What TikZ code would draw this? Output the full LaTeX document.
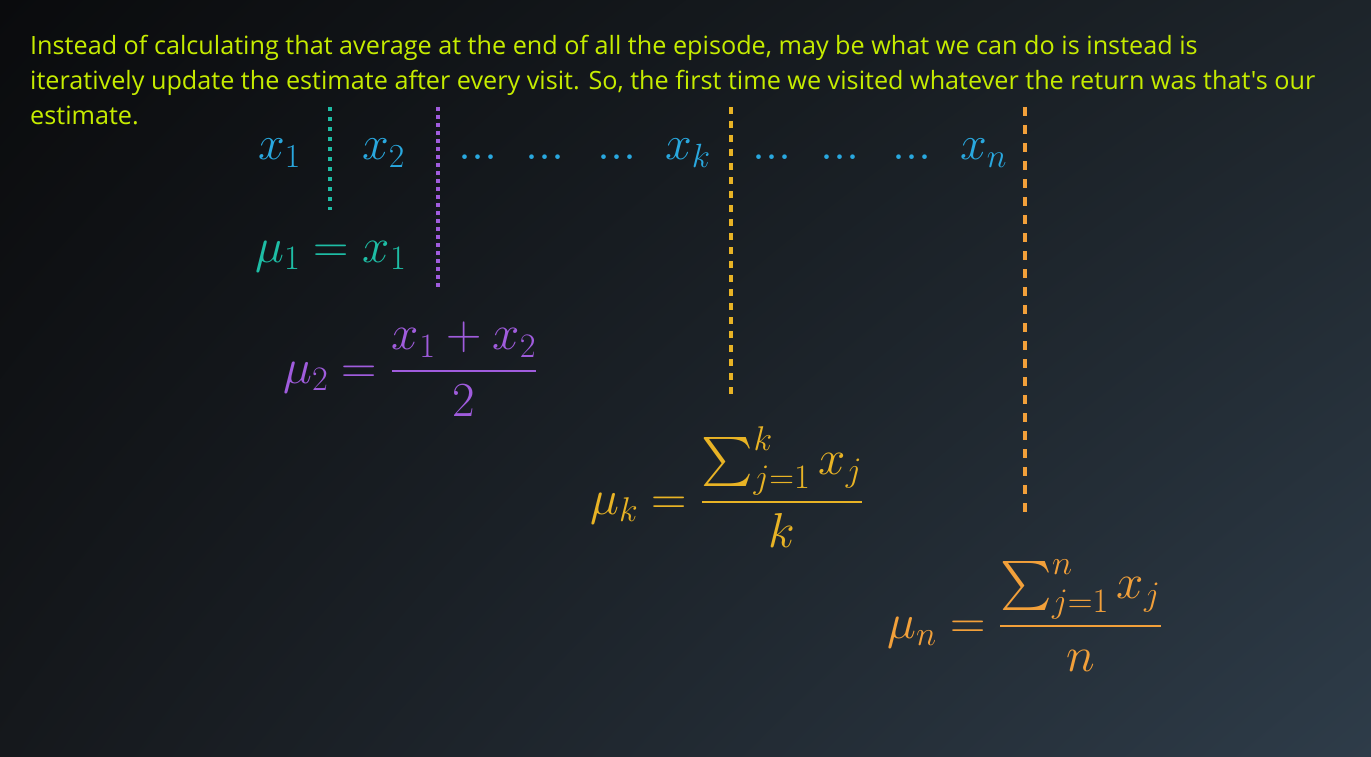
\RequirePackage{fix-cm}
\documentclass[tikz,border=0pt]{standalone}
\usepackage{amsmath}
\usepackage{fontspec}
\usetikzlibrary{positioning,shadings}
\DeclareFontShape{OMX}{cmex}{m}{n}{<->cmex10}{}
\newfontfamily\notefont{Open Sans}
\definecolor{Lime}{HTML}{C6EC00}
\definecolor{Sky}{HTML}{29A8DF}
\definecolor{Teal}{HTML}{1EBDA5}
\definecolor{Violet}{HTML}{A05CDD}
\definecolor{Amber}{HTML}{E8B325}
\definecolor{Tangerine}{HTML}{F2A03A}
\definecolor{BgTL}{HTML}{0A0B0D}
\definecolor{BgTR}{HTML}{1D242A}
\definecolor{BgBL}{HTML}{15181C}
\definecolor{BgBR}{HTML}{2E3C49}
\tikzset{
  note/.style={anchor=base west, inner sep=0pt, text=Lime, font=\notefont\fontsize{25.2}{35}\selectfont},
  obs/.style={anchor=base west, inner sep=0pt, text=Sky, font=\fontsize{48}{56}\selectfont},
  eqn/.style={anchor=base west, inner sep=0pt, font=\fontsize{49}{56}\selectfont},
  sep/.style={line width=4pt},
}

\begin{document}
\begin{tikzpicture}[x=1pt, y=-1pt]
    % background
    \shade[upper left=BgTL, upper right=BgTR, lower left=BgBL, lower right=BgBR] (0,0) rectangle (1371,757);
    % spoken note
    \node[note] (line1) at (30,55) {Instead of calculating that average at the end of all the episode, may be what we can do is instead is};
    \node[note] (line2) at (30,90) {iteratively update the estimate after every visit. So, the first time we visited whatever the return was that's our};
    \node[note] (line3) at (30,125) {estimate.};
    % observed returns
    \node[obs] (x1) at (258,160) {$x_1$};
    \node[obs] (x2) at (362,160) {$x_2$};
    \node[obs] (d1) at (458,160) {$...$};
    \node[obs] (d2) at (525,160) {$...$};
    \node[obs] (d3) at (597,160) {$...$};
    \node[obs] (xk) at (665,160) {$x_k$};
    \node[obs] (d4) at (752,160) {$...$};
    \node[obs] (d5) at (820,160) {$...$};
    \node[obs] (d6) at (892,160) {$...$};
    \node[obs] (xn) at (960,160) {$x_n$};
    % running estimates
    \node[eqn, text=Teal] (mu1) at (255,262) {$\mu_1 = x_1$};
    \node[eqn, text=Violet] (mu2) at (283,383) {$\displaystyle \mu_2 = \frac{x_1 + x_2}{2}$};
    \node[eqn, text=Amber] (muk) at (590,514) {$\displaystyle \mu_k = \frac{\sum_{j=1}^{k} x_j}{k}$};
    \node[eqn, text=Tangerine] (mun) at (887,638) {$\displaystyle \mu_n = \frac{\sum_{j=1}^{n} x_j}{n}$};
    % visit separators
    \coordinate (s1a) at (330,107);
    \coordinate (s1b) at (330,210);
    \coordinate (s2a) at (438,107);
    \coordinate (s2b) at (438,288);
    \coordinate (ska) at (731,107);
    \coordinate (skb) at (731,395);
    \coordinate (sna) at (1025,107);
    \coordinate (snb) at (1025,517);
    \draw[sep, Teal, dash pattern=on 4pt off 6pt] (s1a) -- (s1b);
    \draw[sep, Violet, dash pattern=on 4pt off 4pt] (s2a) -- (s2b);
    \draw[sep, Amber, dash pattern=on 7pt off 7pt] (ska) -- (skb);
    \draw[sep, Tangerine, dash pattern=on 9pt off 9pt] (sna) -- (snb);
\end{tikzpicture}
\end{document}
